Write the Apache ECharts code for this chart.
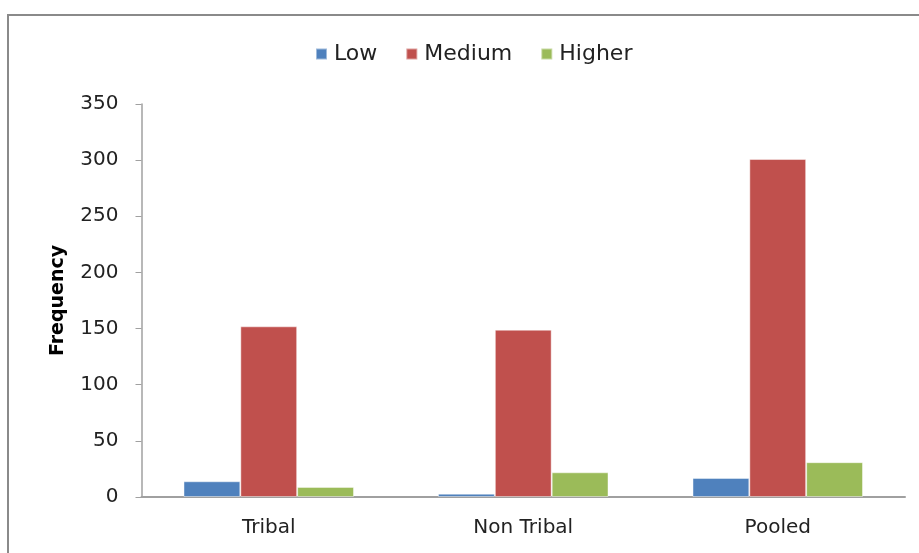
<!DOCTYPE html>
<html>
<head>
<meta charset="utf-8">
<script src="https://cdn.jsdelivr.net/npm/echarts@6/dist/echarts.min.js"></script>
<style>
  html, body { margin: 0; padding: 0; background: #fff; }
  #chart { width: 919px; height: 553px; }
</style>
</head>
<body>
<div id="chart"></div>
<script>
// Frequency of Low / Medium / Higher levels by group
const categories = ['Tribal', 'Non Tribal', 'Pooled'];
const lowValues = [14, 3, 17];
const mediumValues = [152, 149, 301];
const higherValues = [9, 22, 31];
const seriesNames = ['Low', 'Medium', 'Higher'];
const colors = ['#4F81BD', '#C0504D', '#9BBB59'];

const FONT = '"DejaVu Sans", sans-serif';
const chart = echarts.init(document.getElementById('chart'), null, { renderer: 'canvas' });

const barSeries = [lowValues, mediumValues, higherValues].map((vals, i) => ({
  name: seriesNames[i],
  type: 'bar',
  data: vals,
  barGap: '0%',
  barCategoryGap: '33%',
  itemStyle: {
    color: colors[i],
    borderColor: 'rgba(255,255,255,0.45)',
    borderWidth: 1
  }
}));

chart.setOption({
  animation: false,
  backgroundColor: '#ffffff',
  color: colors,
  graphic: [{
    type: 'rect',
    shape: { x: 8, y: 15, width: 960, height: 600 },
    style: { fill: 'none', stroke: '#8a8a8a', lineWidth: 2 },
    silent: true
  }],
  legend: {
    data: seriesNames,
    left: 310,
    top: 38,
    itemWidth: 11,
    itemHeight: 11,
    itemGap: 28,
    icon: 'rect',
    textStyle: { fontFamily: FONT, fontSize: 22, color: '#222', padding: [0, 0, 0, 2] }
  },
  grid: { left: 141.5, right: 14, top: 104, bottom: 56 },
  xAxis: {
    type: 'category',
    data: categories,
    axisLine: { lineStyle: { color: '#a0a0a0', width: 2 } },
    axisTick: { show: false },
    axisLabel: { fontFamily: FONT, fontSize: 20, color: '#222', margin: 21 }
  },
  yAxis: {
    type: 'value',
    min: 0,
    max: 350,
    interval: 50,
    name: 'Frequency',
    nameLocation: 'middle',
    nameGap: 74,
    nameRotate: 90,
    nameTextStyle: { fontFamily: FONT, fontSize: 19, fontWeight: 'bold', color: '#000' },
    axisLine: { show: true, lineStyle: { color: '#a0a0a0', width: 1.5 } },
    axisTick: { show: true, inside: false, length: 6, lineStyle: { color: '#a0a0a0' } },
    splitLine: { show: false },
    axisLabel: { fontFamily: FONT, fontSize: 20, color: '#222', margin: 23 }
  },
  series: barSeries
});
</script>
</body>
</html>
